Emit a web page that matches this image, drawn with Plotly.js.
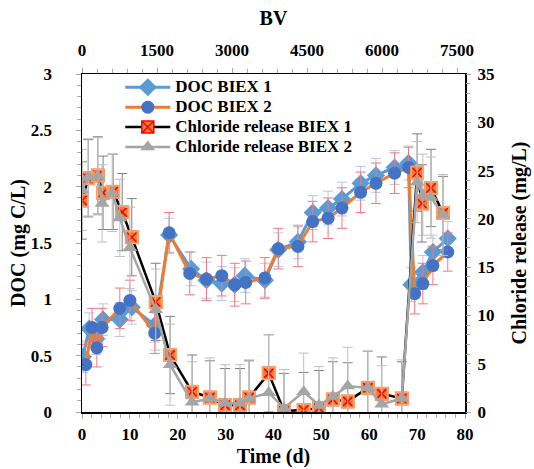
<!DOCTYPE html>
<html>
<head>
<meta charset="utf-8">
<script src="https://cdn.plot.ly/plotly-3.0.1.min.js"></script>
<style>html,body{margin:0;padding:0;background:#fff;}#chart{width:534px;height:469px;}</style>
</head>
<body>
<div id="chart"></div>
<script>
// DOC BIEX 1 (left axis, mg C/L)
const docT1 = [0.2, 1.5, 3.0, 4.4, 7.9, 10.4, 15.2, 18.2, 22.8, 26.0, 29.2, 31.9, 34.0, 38.2, 41.0, 45.1, 48.2, 51.4, 54.3, 58.2, 61.4, 65.3, 68.2, 68.8, 71.2, 73.3, 76.4];
const doc1  = [0.49, 0.74, 0.65, 0.82, 0.82, 0.93, 0.77, 1.57, 1.27, 1.17, 1.14, 1.13, 1.21, 1.17, 1.44, 1.51, 1.77, 1.81, 1.89, 2.03, 2.10, 2.17, 2.21, 1.13, 1.24, 1.42, 1.54];
const doc1Err = [0.14, 0.14, 0.14, 0.14, 0.15, 0.15, 0.15, 0.15, 0.15, 0.16, 0.15, 0.15, 0.15, 0.15, 0.15, 0.15, 0.15, 0.15, 0.15, 0.15, 0.15, 0.15, 0.15, 0.15, 0.15, 0.15, 0.15];

// DOC BIEX 2 (left axis, mg C/L)
const docT2 = [0.8, 2.1, 3.1, 4.2, 7.9, 10.0, 15.2, 18.2, 22.5, 26.0, 29.2, 31.9, 34.2, 38.2, 41.0, 45.1, 48.2, 51.4, 54.3, 58.2, 61.4, 65.3, 68.2, 69.5, 71.2, 73.3, 76.4];
const doc2  = [0.42, 0.75, 0.57, 0.75, 0.92, 0.99, 0.70, 1.59, 1.23, 1.18, 1.21, 1.13, 1.15, 1.19, 1.45, 1.47, 1.69, 1.72, 1.81, 1.95, 2.03, 2.12, 2.17, 1.05, 1.14, 1.30, 1.42];
const doc2Err = [0.18, 0.17, 0.17, 0.17, 0.18, 0.18, 0.18, 0.18, 0.19, 0.19, 0.18, 0.19, 0.19, 0.18, 0.18, 0.18, 0.18, 0.18, 0.18, 0.18, 0.18, 0.18, 0.18, 0.18, 0.18, 0.17, 0.17];

// Chloride release BIEX 1 (right axis, mg/L)
const clT1 = [0.0, 1.3, 3.3, 4.4, 6.5, 8.4, 10.4, 15.4, 18.4, 23.0, 26.7, 29.9, 33.0, 34.9, 39.0, 42.2, 46.3, 49.5, 52.4, 55.5, 59.7, 62.6, 66.8, 70.0, 71.0, 72.9, 75.4];
const cl1  = [21.9, 24.2, 24.5, 22.7, 22.8, 20.7, 18.1, 11.4, 5.9, 2.1, 1.5, 0.7, 0.7, 1.5, 4.0, 0.1, 0.2, 0.4, 1.3, 1.1, 2.5, 1.9, 1.4, 24.8, 21.6, 23.2, 20.6];
const cl1Err = [4.0, 4.0, 4.0, 3.8, 3.9, 4.0, 4.0, 4.0, 4.0, 3.8, 3.8, 3.8, 3.8, 3.8, 4.0, 3.9, 3.9, 3.9, 3.9, 4.0, 3.8, 3.8, 3.8, 4.0, 4.0, 4.0, 3.8];

// Chloride release BIEX 2 (right axis, mg/L)
const clT2 = [0.0, 1.3, 3.3, 4.2, 6.3, 7.9, 10.0, 15.4, 18.4, 23.0, 26.7, 29.9, 33.0, 34.9, 39.0, 42.2, 46.3, 49.5, 52.4, 55.5, 59.7, 62.6, 66.8, 70.0, 71.2, 72.9, 75.4];
const cl2  = [23.0, 24.3, 24.4, 21.6, 22.7, 20.1, 17.0, 10.6, 4.9, 1.0, 1.4, 0.9, 0.9, 1.4, 2.0, 0.4, 2.1, 0.7, 1.6, 2.7, 2.5, 0.8, 1.4, 23.8, 22.5, 22.2, 20.4];
const cl2Err = [4.2, 4.0, 4.0, 4.0, 4.0, 4.0, 4.2, 4.2, 4.2, 4.2, 4.2, 4.0, 4.0, 4.0, 6.0, 4.0, 4.0, 4.0, 4.0, 4.0, 3.8, 4.0, 4.0, 4.2, 4.2, 4.2, 4.2];

// Axis ticks
const timeTicks = [0, 10, 20, 30, 40, 50, 60, 70, 80];
const bvTicks = [0, 1500, 3000, 4500, 6000, 7500];
const docTicks = [0, 0.5, 1, 1.5, 2, 2.5, 3];
const docTickText = ['0', '0.5', '1', '1.5', '2', '2.5', '3'];
const clTicks = [0, 5, 10, 15, 20, 25, 30, 35];

const FONT = 'Liberation Serif, "Times New Roman", serif';
const tickFont = {family: FONT, size: 17, color: '#000', weight: 'bold'};
const titleFont = {family: FONT, size: 20, color: '#000', weight: 'bold'};
const B = (s) => '<b>' + s + '</b>';
const lg = (s) => '<span style="font-size:17px;font-weight:bold"><b>' + s + '</b></span>';

const traces = [
  {
    name: lg('DOC BIEX 1'), x: docT1, y: doc1, type: 'scatter', mode: 'lines+markers',
    line: {color: '#5B9BD5', width: 3},
    marker: {symbol: 'diamond', size: 14, color: '#5B9BD5'},
    error_y: {type: 'data', array: doc1Err, visible: true, color: '#B4C7E7', thickness: 1, width: 5}
  },
  {
    name: lg('DOC BIEX 2'), x: docT2, y: doc2, type: 'scatter', mode: 'lines+markers',
    line: {color: '#ED7D31', width: 3},
    marker: {symbol: 'circle', size: 13, color: '#4472C4'},
    error_y: {type: 'data', array: doc2Err, visible: true, color: '#F4777F', thickness: 1, width: 5}
  },
  {
    name: lg('Chloride release BIEX 1'), x: clT1, y: cl1, yaxis: 'y2', type: 'scatter', mode: 'lines+markers',
    line: {color: '#000000', width: 2.5},
    marker: {symbol: 'square-x', size: 12, color: '#ED7D31', line: {color: '#FF0000', width: 1.5}},
    error_y: {type: 'data', array: cl1Err, visible: true, color: '#7F7F7F', thickness: 1, width: 5}
  },
  {
    x: clT1, y: cl1, yaxis: 'y2', type: 'scatter', mode: 'markers', showlegend: false, hoverinfo: 'skip',
    marker: {symbol: 'square-open', size: 12, color: '#F4A46A', line: {width: 2}}
  },
  {
    name: lg('Chloride release BIEX 2'), x: clT2, y: cl2, yaxis: 'y2', type: 'scatter', mode: 'lines+markers',
    line: {color: '#A5A5A5', width: 2.5},
    marker: {symbol: 'triangle-up', size: 13, color: '#A5A5A5'},
    error_y: {type: 'data', array: cl2Err, visible: true, color: '#BFBFBF', thickness: 1, width: 5}
  },
  {
    x: [0], y: [null], xaxis: 'x2', type: 'scatter', mode: 'markers', showlegend: false, hoverinfo: 'skip'
  }
];

const layout = {
  width: 534, height: 469,
  margin: {l: 82, r: 69, t: 74, b: 57},
  paper_bgcolor: '#fff', plot_bgcolor: '#fff',
  showlegend: true,
  legend: {
    x: 0.1, y: 1.005, xanchor: 'left', yanchor: 'top',
    bgcolor: 'rgba(0,0,0,0)', font: {family: FONT, size: 13, color: '#000'},
    tracegroupgap: 0, itemwidth: 45
  },
  xaxis: {
    range: [0, 80], tickvals: timeTicks, ticktext: timeTicks.map(v => B(v)),
    showgrid: false, zeroline: false, showline: true, linecolor: '#000', linewidth: 1.5, mirror: true,
    ticks: 'outside', ticklen: 5, tickcolor: '#A6A6A6', tickwidth: 1, ticklabelstandoff: 1,
    minor: {dtick: 2, ticks: 'outside', ticklen: 4, tickcolor: '#A6A6A6', showgrid: false},
    tickfont: tickFont,
    title: {text: B('Time (d)'), font: titleFont, standoff: 6}
  },
  xaxis2: {
    overlaying: 'x', side: 'top', anchor: 'y', range: [0, 7660],
    tickvals: bvTicks, ticktext: bvTicks.map(v => B(v)),
    showgrid: false, zeroline: false, showline: false,
    ticks: 'outside', ticklen: 5, tickcolor: '#A6A6A6', tickwidth: 1, ticklabelstandoff: 5,
    minor: {dtick: 300, ticks: 'outside', ticklen: 4, tickcolor: '#A6A6A6', showgrid: false},
    tickfont: tickFont,
    title: {text: B('BV'), font: titleFont, standoff: 10}
  },
  yaxis: {
    range: [0, 3], tickvals: docTicks, ticktext: docTickText.map(B),
    showgrid: false, zeroline: false, showline: true, linecolor: '#000', linewidth: 1.5, mirror: true,
    ticks: 'outside', ticklen: 5, tickcolor: '#A6A6A6', tickwidth: 1, ticklabelstandoff: 20,
    minor: {dtick: 0.1, ticks: 'outside', ticklen: 4, tickcolor: '#A6A6A6', showgrid: false},
    tickfont: tickFont,
    title: {text: B('DOC (mg C/L)'), font: titleFont, standoff: 0}
  },
  yaxis2: {
    overlaying: 'y', side: 'right', anchor: 'x', range: [0, 35],
    tickvals: clTicks, ticktext: clTicks.map(v => B(v)),
    showgrid: false, zeroline: false, showline: false,
    ticks: 'outside', ticklen: 5, tickcolor: '#A6A6A6', tickwidth: 1, ticklabelstandoff: 3,
    minor: {dtick: 1, ticks: 'outside', ticklen: 4, tickcolor: '#A6A6A6', showgrid: false},
    tickfont: tickFont,
    title: {text: B('Chloride release (mg/L)'), font: titleFont, standoff: 18}
  }
};

Plotly.newPlot('chart', traces, layout, {staticPlot: true, displayModeBar: false});
</script>
</body>
</html>
